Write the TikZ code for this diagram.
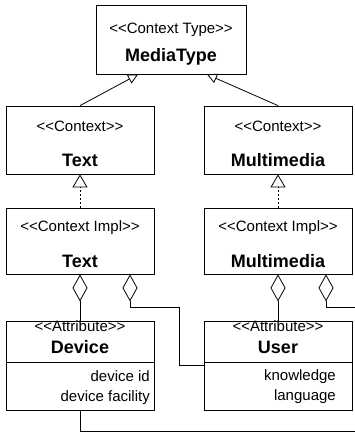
\documentclass[tikz,border=0pt]{standalone}
\usepackage{fontspec}
\setmainfont{Liberation Sans}
\usetikzlibrary{arrows.meta}
\begin{document}
\begin{tikzpicture}[x=1pt,y=-1pt,
  box/.style={draw, line width=0.8pt, rectangle, inner sep=0pt, minimum width=148pt},
  stereo/.style={anchor=base, inner sep=0pt, font=\fontsize{15}{17}\selectfont},
  cname/.style={anchor=base, inner sep=0pt, font=\fontsize{18}{21}\selectfont\bfseries},
  attr/.style={anchor=base east, inner sep=0pt, font=\fontsize{15}{18}\selectfont},
  conn/.style={line width=0.8pt},
  gen/.style={conn, -{Triangle[open, length=10pt, width=10pt]}},
  real/.style={conn, dash pattern=on 2pt off 2pt, -{Triangle[open, length=13pt, width=15pt, line width=0.8pt]}},
  agg/.style={conn, {Diamond[open, length=27pt, width=15pt, line width=0.8pt]}-}
]
\useasboundingbox (0,0) rectangle (355,434);
% boxes
\node[box, minimum width=150pt, minimum height=69pt] (MT) at (171,39.5) {};
\node[box, minimum height=68pt] (TC) at (80,140) {};
\node[box, minimum height=68pt] (MC) at (278,140) {};
\node[box, minimum height=66pt] (TI) at (80,241) {};
\node[box, minimum height=66pt] (MI) at (278,241) {};
\node[box, minimum height=89pt] (Dev) at (80,365.5) {};
\node[box, minimum height=89pt] (User) at (278,365.5) {};
\draw[line width=0.8pt] ([yshift=3.5pt]Dev.west) -- ([yshift=3.5pt]Dev.east);
\draw[line width=0.8pt] ([yshift=3.5pt]User.west) -- ([yshift=3.5pt]User.east);
% texts
\node[stereo] (mts) at (171,33) {<{}<Context Type>{}>};
\node[cname] (mtn) at (171,61) {MediaType};
\node[stereo] (tcs) at (80,131) {<{}<Context>{}>};
\node[cname] (tcn) at (80,166) {Text};
\node[stereo] (mcs) at (278,131) {<{}<Context>{}>};
\node[cname] (mcn) at (278,166) {Multimedia};
\node[stereo] (tis) at (80,231) {<{}<Context Impl>{}>};
\node[cname] (tin) at (80,267) {Text};
\node[stereo] (mis) at (278,231) {<{}<Context Impl>{}>};
\node[cname] (min) at (278,267) {Multimedia};
\node[stereo] (dvs) at (80,331) {<{}<Attribute>{}>};
\node[cname] (dvn) at (80,353) {Device};
\node[attr] (dva) at (150,381) {device id};
\node[attr] (dvb) at (150,401) {device facility};
\node[stereo] (uss) at (278,331) {<{}<Attribute>{}>};
\node[cname] (usn) at (278,353) {User};
\node[attr] (usa) at (336,380) {knowledge};
\node[attr] (usb) at (336,400) {language};
% connectors
\draw[gen] (TC.north) -- ([xshift=-33pt]MT.south);
\draw[gen] (MC.north) -- ([xshift=36pt]MT.south);
\draw[real] (TI.north) -- (TC.south);
\draw[real] (MI.north) -- (MC.south);
\draw[agg] (TI.south) -- (Dev.north);
\coordinate (j1) at (179,307);
\coordinate (j2) at (179,365);
\draw[agg] ([xshift=50pt]TI.south) |- (j1) -- (j2) -- (User.west |- j2);
\draw[agg] (MI.south) -- (User.north);
\coordinate (e1) at (355,307);
\draw[agg] ([xshift=48pt]MI.south) |- (e1);
\coordinate (e2) at (355,431);
\draw[conn] (Dev.south) |- (e2);
\end{tikzpicture}
\end{document}
